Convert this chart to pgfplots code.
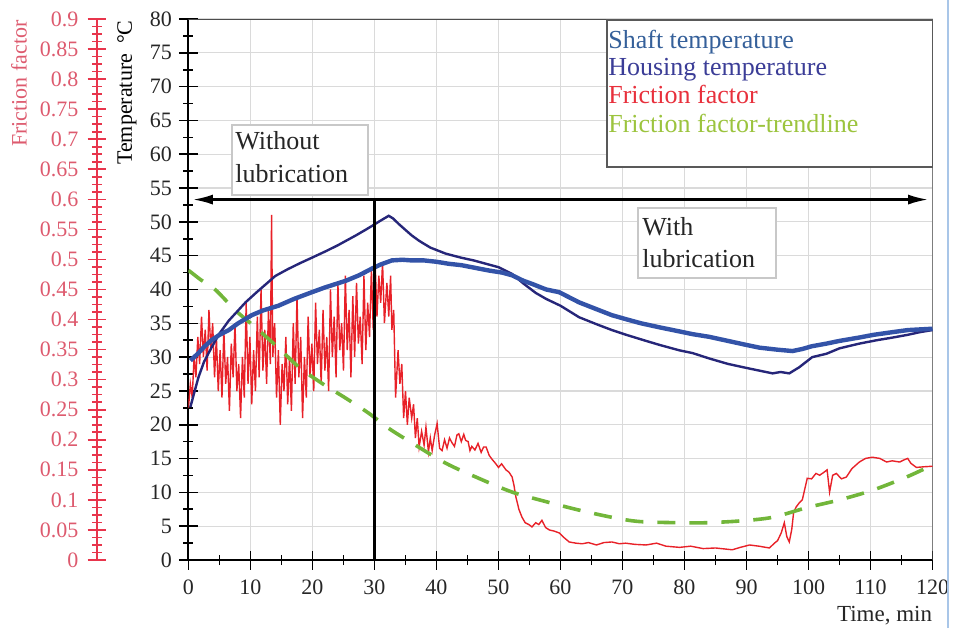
\documentclass[border=0pt]{standalone}
\usepackage{fontspec}
\setmainfont{Liberation Serif}
\usepackage{pgfplots}
\pgfplotsset{compat=1.18}
\usetikzlibrary{arrows.meta}
\definecolor{shaftc}{HTML}{3353A8}
\definecolor{housc}{HTML}{262679}
\definecolor{fricc}{HTML}{E82128}
\definecolor{trendc}{HTML}{72B63A}
\definecolor{redax}{HTML}{E8354C}
\definecolor{redlab}{HTML}{DD5A6E}
\definecolor{gridc}{HTML}{DADADA}
\definecolor{legshaft}{HTML}{35609A}
\definecolor{leghous}{HTML}{3B3D97}
\definecolor{legfric}{HTML}{E8303C}
\definecolor{legtrend}{HTML}{9CC43E}
\definecolor{boxc}{HTML}{C8C8C8}

\pgfplotstableread{
x f
0 0.253
0.3 0.293
0.6 0.270
0.9 0.338
1.2 0.304
1.5 0.371
1.8 0.326
2.1 0.405
2.4 0.338
2.7 0.383
3.0 0.315
3.3 0.416
3.6 0.349
3.9 0.394
4.2 0.304
4.5 0.371
4.8 0.281
5.1 0.349
5.4 0.270
5.7 0.383
6.0 0.293
6.3 0.338
6.6 0.248
6.9 0.360
7.2 0.304
7.5 0.394
7.8 0.281
8.1 0.326
8.4 0.236
8.7 0.338
9.0 0.270
9.3 0.428
9.6 0.293
9.9 0.371
10.2 0.259
10.5 0.349
10.8 0.281
11.1 0.405
11.4 0.304
11.7 0.450
12.0 0.315
12.3 0.383
12.6 0.293
12.9 0.416
13.2 0.326
13.4 0.574
13.6 0.338
13.9 0.394
14.2 0.270
14.5 0.349
14.8 0.225
15.1 0.326
15.4 0.281
15.7 0.371
16.0 0.259
16.3 0.338
16.6 0.248
16.9 0.394
17.2 0.293
17.5 0.439
17.8 0.304
18.1 0.371
18.4 0.236
18.7 0.338
19.0 0.270
19.3 0.405
19.6 0.304
19.9 0.360
20.2 0.281
20.5 0.428
20.8 0.326
21.1 0.383
21.4 0.293
21.7 0.416
22.0 0.315
22.3 0.371
22.6 0.281
22.9 0.450
23.2 0.338
23.5 0.405
23.8 0.304
24.1 0.461
24.4 0.349
24.7 0.394
25.0 0.315
25.3 0.473
25.6 0.349
25.9 0.416
26.2 0.304
26.5 0.439
26.8 0.338
27.1 0.461
27.4 0.360
27.7 0.405
28.0 0.326
28.3 0.473
28.6 0.349
28.9 0.428
29.2 0.371
29.5 0.484
29.8 0.383
30.1 0.495
30.4 0.405
30.7 0.473
31.0 0.428
31.3 0.495
31.6 0.394
32.0 0.461
32.3 0.405
32.6 0.473
32.8 0.383
33.1 0.416
33.4 0.270
33.8 0.349
34.1 0.293
34.4 0.326
34.7 0.236
35.0 0.281
35.3 0.225
35.6 0.270
36.0 0.236
36.3 0.259
36.6 0.203
36.9 0.236
37.2 0.188
37.6 0.214
38.0 0.191
38.3 0.221
38.7 0.180
39.0 0.203
39.3 0.182
39.7 0.208
40.1 0.227
40.5 0.186
40.9 0.182
41.3 0.200
41.7 0.186
42.1 0.203
42.5 0.195
42.9 0.189
43.3 0.208
43.6 0.210
44.0 0.197
44.4 0.209
44.7 0.199
45.1 0.197
45.4 0.182
45.7 0.189
46.2 0.183
46.7 0.194
47.2 0.179
47.6 0.188
48.0 0.188
48.5 0.174
49.0 0.167
49.5 0.161
50.0 0.154
50.5 0.160
51.2 0.150
51.7 0.146
52.2 0.138
52.5 0.124
52.8 0.105
53.3 0.084
53.8 0.071
54.3 0.062
54.9 0.059
55.4 0.055
56.0 0.062
56.5 0.059
57.0 0.066
57.6 0.054
58.2 0.050
59.0 0.048
59.8 0.045
60.6 0.037
61.4 0.030
62.5 0.028
63.5 0.027
64.5 0.029
65.8 0.025
67.0 0.029
68.3 0.030
69.5 0.027
70.5 0.028
72.0 0.026
73.8 0.025
75.5 0.028
77.0 0.023
79.2 0.021
81.0 0.023
83.0 0.019
85.0 0.020
87.7 0.017
89.0 0.021
90.5 0.025
92.0 0.023
93.7 0.020
94.5 0.028
95.0 0.032
95.6 0.045
96.1 0.062
96.5 0.039
96.9 0.030
97.3 0.051
97.6 0.079
98.0 0.088
98.5 0.095
99.0 0.100
99.4 0.118
99.8 0.136
100.5 0.135
101.2 0.144
101.8 0.141
102.5 0.146
103.0 0.150
103.4 0.113
103.9 0.141
104.5 0.144
105.3 0.135
106.1 0.138
107.0 0.152
108.2 0.163
109.2 0.169
110.3 0.171
111.5 0.169
112.6 0.163
113.5 0.165
114.7 0.163
115.5 0.167
116.0 0.169
116.5 0.161
117.4 0.154
118.5 0.155
120.0 0.156
}\friction

\pgfplotstableread{
x f
0 0.482
2 0.466
4.4 0.449
7.6 0.415
10.8 0.387
14.5 0.353
17.8 0.321
21.5 0.294
25.4 0.269
29.1 0.244
32.3 0.219
36 0.195
41.5 0.161
46.8 0.136
52.2 0.113
57.7 0.097
63 0.083
68.3 0.071
72.7 0.064
79.2 0.062
83.5 0.062
89 0.065
94.2 0.071
99.7 0.087
105 0.100
110.3 0.116
115.8 0.138
120 0.158
}\trend

\pgfplotstableread{
x T
0.3 22.6
1 25
1.6 27
2.5 29.3
3.7 31.4
5 33.5
6.5 35.4
8 36.9
9.2 38.1
11 39.6
12.5 40.8
14 42
16 43
18 43.9
19.9 44.7
22 45.6
24 46.5
25.4 47.2
27 48
28.5 48.8
29.6 49.4
31 50.2
32.3 50.9
33 50.5
33.9 49.7
35 48.8
36 48
37.2 47.2
39 46.2
41.5 45.3
44 44.7
46 44.3
48 43.8
50 43.3
52.2 42.3
54 40.9
56 39.5
57.7 38.6
60 37.6
63 35.9
66 34.8
68.3 34
70.6 33.3
73.8 32.4
76 31.8
79.2 31
81.3 30.6
84 29.8
87 29
90 28.4
92.1 28
94.2 27.6
95.5 27.8
96.9 27.6
98.5 28.5
100.6 30
102.9 30.5
105 31.3
108.2 32
111 32.5
113.6 32.9
116 33.3
118 33.7
120 34
}\housing

\pgfplotstableread{
x T
0.3 29.5
1.5 30.5
2.5 31.5
3.7 32.5
5 33.3
6.5 34
8 35
10.2 36.2
12 36.9
14.5 37.6
17 38.6
19.9 39.6
22 40.3
25.4 41.3
27.5 42.1
29.6 43.1
31 43.7
32.8 44.3
34.5 44.4
36 44.3
38 44.3
40 44.1
42 43.8
44 43.6
46.8 43.1
48.5 42.8
50.6 42.5
52.2 42.1
54 41.3
55.5 40.8
57.7 40
59.8 39.6
61.5 38.8
63 38.1
65.5 37.2
68.3 36.2
70.6 35.6
73 35
76 34.4
79.2 33.8
81.3 33.4
84 33
87 32.4
90 31.8
92.1 31.4
95 31.1
97.4 30.9
99 31.2
100.5 31.6
102.9 32
105 32.4
108.2 32.9
110.5 33.3
113.6 33.7
116 34
118 34.1
120 34.2
}\shaft

\begin{document}
\begin{tikzpicture}
\path[use as bounding box] (-94.25pt,-34pt) rectangle (382.75pt,280pt);
\pgfplotsset{base/.style={scale only axis, width=372pt, height=270.5pt,
  at={(0,0)}, anchor=south west, xmin=0, xmax=120}}

% main temperature axis (ticks, grid)
\begin{axis}[base, ymin=0, ymax=80,
  axis x line*=bottom, axis y line*=left,
  axis line style={line width=1pt, black},
  xtick={0,10,...,120}, minor x tick num=1,
  ytick={0,5,...,80}, minor y tick num=1,
  tick align=center, major tick length=9.5pt, minor tick length=5pt,
  every tick/.style={black, line width=0.8pt},
  grid=major, major grid style={gridc, line width=0.6pt},
  tick label style={font=\fontsize{11}{13}\selectfont, text=black!85, /pgf/number format/assume math mode=true},
  xticklabel style={yshift=-1.5pt},
  yticklabel style={xshift=0pt},
]
\draw[gray!60!black, line width=1pt] (rel axis cs:0,1) -- (rel axis cs:1,1) -- (rel axis cs:1,0);
\end{axis}

% red friction factor scale
\begin{axis}[scale only axis, width=1pt, height=270.5pt, at={(-45.75pt,0)}, anchor=south west,
  xmin=0, xmax=1, ymin=0, ymax=0.9,
  axis x line=none, axis y line*=left,
  axis line style={redax, line width=1pt},
  ytick={0,0.05,0.1,0.15,0.2,0.25,0.3,0.35,0.4,0.45,0.5,0.55,0.6,0.65,0.7,0.75,0.8,0.85,0.9},
  yticklabels={0,0.05,0.1,0.15,0.2,0.25,0.3,0.35,0.4,0.45,0.5,0.55,0.6,0.65,0.7,0.75,0.8,0.85,0.9},
  minor y tick num=3,
  tick align=center, major tick length=9.5pt, minor tick length=5pt,
  every tick/.style={redax, line width=0.8pt},
  yticklabel style={xshift=-1pt, text=redlab, font=\fontsize{11}{13}\selectfont},
]
\end{axis}

% friction data
\begin{axis}[base, ymin=0, ymax=0.9, hide axis]
\addplot[fricc, line width=0.7pt] table[x=x, y=f] {\friction};
\addplot[trendc, line width=1.8pt, dash pattern=on 9pt off 7pt, smooth] table[x=x, y=f] {\trend};
\end{axis}

% temperature data and annotations
\begin{axis}[base, ymin=0, ymax=80, hide axis, clip=false]
\addplot[housc, line width=1.2pt] table[x=x, y=T] {\housing};
\addplot[shaftc, line width=2.2pt] table[x=x, y=T] {\shaft};
\draw[black, line width=1.5pt] (axis cs:30,0) -- (axis cs:30,53.3);
\draw[black, line width=1.2pt, {Latex[length=10pt,width=5pt]}-{Latex[length=10pt,width=5pt]}] (axis cs:0.7,53.3) -- (axis cs:119.3,53.3);
% boxes
\draw[boxc, line width=0.7pt, fill=white] (rel axis cs:0.0585,0.8041) rectangle (rel axis cs:0.2413,0.6747);
\node[anchor=base west, inner sep=0pt, font=\fontsize{13}{15}\selectfont, text=black!85] at (rel axis cs:0.0625,0.7579) {Without};
\node[anchor=base west, inner sep=0pt, font=\fontsize{13}{15}\selectfont, text=black!85] at (rel axis cs:0.0625,0.6969) {lubrication};
\draw[boxc, line width=0.7pt, fill=white] (rel axis cs:0.6042,0.6506) rectangle (rel axis cs:0.7897,0.5213);
\node[anchor=base west, inner sep=0pt, font=\fontsize{13}{15}\selectfont, text=black!85] at (rel axis cs:0.6095,0.6007) {With};
\node[anchor=base west, inner sep=0pt, font=\fontsize{13}{15}\selectfont, text=black!85] at (rel axis cs:0.6095,0.5416) {lubrication};
% legend
\draw[gray!70!black, line width=0.9pt, fill=white] (rel axis cs:0.5625,0.998) rectangle (rel axis cs:1,0.7264);
\node[anchor=base west, inner sep=0pt, font=\fontsize{13}{15}\selectfont, text=legshaft] at (rel axis cs:0.5638,0.9464) {Shaft temperature};
\node[anchor=base west, inner sep=0pt, font=\fontsize{13}{15}\selectfont, text=leghous] at (rel axis cs:0.5638,0.8965) {Housing temperature};
\node[anchor=base west, inner sep=0pt, font=\fontsize{13}{15}\selectfont, text=legfric] at (rel axis cs:0.5638,0.8447) {Friction factor};
\node[anchor=base west, inner sep=0pt, font=\fontsize{13}{15}\selectfont, text=legtrend] at (rel axis cs:0.5638,0.7911) {Friction factor-trendline};
% axis labels
\node[rotate=90, anchor=east, inner sep=0pt, font=\fontsize{11}{13}\selectfont, text=black] at ([xshift=-30.75pt,yshift=-0.5pt]rel axis cs:0,1) {Temperature\hspace{5pt}°C};
\node[rotate=90, anchor=east, inner sep=0pt, font=\fontsize{11}{13}\selectfont, text=redlab] at ([xshift=-84.75pt,yshift=-0.5pt]rel axis cs:0,1) {Friction factor};
\node[anchor=base east, inner sep=0pt, font=\fontsize{11.5}{13}\selectfont, text=black!85] at ([yshift=-30.5pt]rel axis cs:1,0) {Time, min};
% screen edge line
\draw[color={rgb,255:red,169;green,198;blue,232}, line width=0.75pt] (rel axis cs:1.0208,-0.1257) -- (rel axis cs:1.0208,1.035);
\end{axis}
\end{tikzpicture}
\end{document}
